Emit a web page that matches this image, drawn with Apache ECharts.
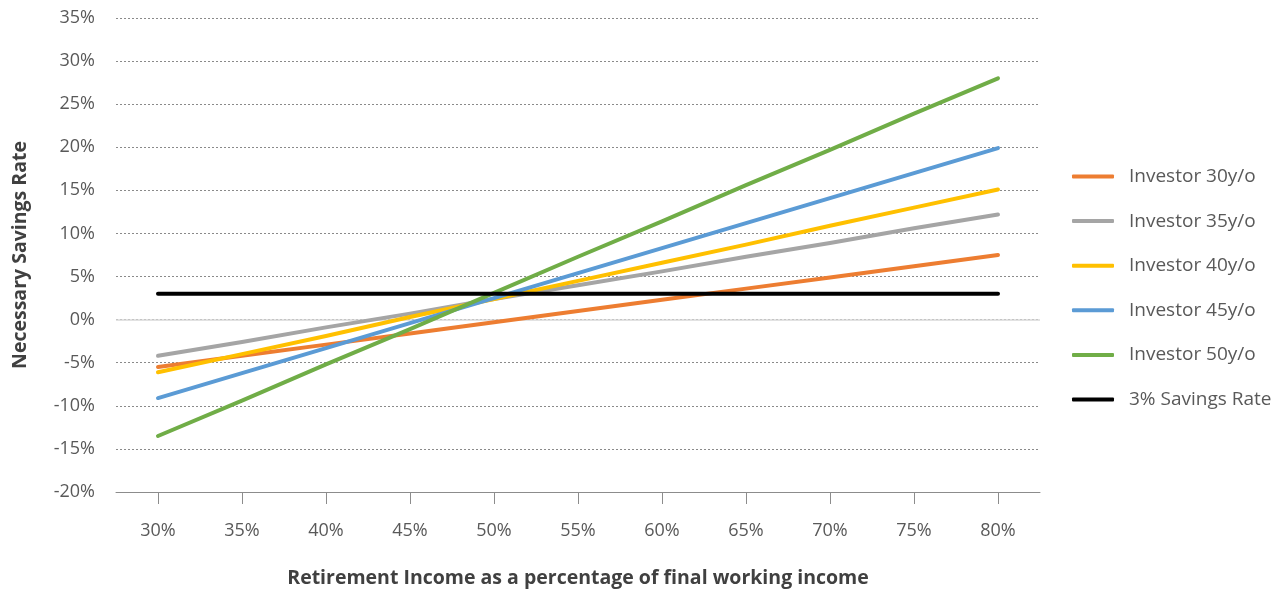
<!DOCTYPE html>
<html>
<head>
<meta charset="utf-8">
<script src="https://cdn.jsdelivr.net/npm/echarts@6/dist/echarts.min.js"></script>
<style>
  html, body { margin: 0; padding: 0; background: #fff; }
  #chart { width: 1281px; height: 593px; }
</style>
</head>
<body>
<div id="chart"></div>
<script>
// Retirement income replacement ratio (x) vs. savings rate needed (y, %)
const categories = ['30%', '35%', '40%', '45%', '50%', '55%', '60%', '65%', '70%', '75%', '80%'];

const investor30 = [-5.5, -4.2, -2.9, -1.6, -0.3, 1.0, 2.3, 3.6, 4.9, 6.2, 7.5];
const investor35 = [-4.2, -2.6, -0.9, 0.7, 2.4, 4.0, 5.6, 7.3, 8.9, 10.6, 12.2];
const investor40 = [-6.1, -4.0, -1.9, 0.3, 2.4, 4.5, 6.6, 8.7, 10.9, 13.0, 15.1];
const investor45 = [-9.1, -6.2, -3.3, -0.4, 2.5, 5.4, 8.3, 11.2, 14.1, 17.0, 19.9];
const investor50 = [-13.5, -9.4, -5.2, -1.1, 3.1, 7.3, 11.4, 15.6, 19.7, 23.9, 28.0];
const savingsRate3 = [3, 3, 3, 3, 3, 3, 3, 3, 3, 3, 3];

const seriesNames = ['Investor 30y/o', 'Investor 35y/o', 'Investor 40y/o', 'Investor 45y/o', 'Investor 50y/o', '3% Savings Rate'];
const seriesColors = ['#ED7D31', '#A5A5A5', '#FFC000', '#5B9BD5', '#70AD47', '#000000'];
const seriesData = [investor30, investor35, investor40, investor45, investor50, savingsRate3];

const FONT = '"Open Sans", "Noto Sans", sans-serif';

const chart = echarts.init(document.getElementById('chart'), null, { renderer: 'canvas' });

const series = seriesNames.map((name, i) => ({
  name: name,
  type: 'line',
  data: seriesData[i],
  symbol: 'none',
  smooth: false,
  color: seriesColors[i],
  lineStyle: { width: 4, color: seriesColors[i], cap: 'round', join: 'round' },
  z: 3 + i,
  silent: true
}));

// solid light baseline at 0%
series[0].markLine = {
  silent: true,
  symbol: 'none',
  label: { show: false },
  lineStyle: { color: '#d9d9d9', width: 1.5, type: 'solid' },
  data: [{ yAxis: 0 }],
  z: 1
};

chart.setOption({
  animation: false,
  backgroundColor: '#ffffff',
  grid: { left: 116, right: 241, top: 18, bottom: 101, containLabel: false, outerBoundsMode: 'none' },
  legend: {
    orient: 'vertical',
    left: 1067,
    top: 162,
    itemWidth: 42,
    itemHeight: 4,
    itemGap: 25.6,
    icon: 'roundRect',
    data: seriesNames,
    textStyle: { fontFamily: FONT, fontSize: 19, color: '#595959', padding: [0, 0, 0, 10] }
  },
  xAxis: {
    type: 'category',
    data: categories,
    boundaryGap: true,
    name: 'Retirement Income as a percentage of final working income',
    nameLocation: 'middle',
    nameGap: 76,
    nameTextStyle: { fontFamily: FONT, fontSize: 19.5, fontWeight: 'bold', color: '#404040' },
    axisLine: { show: true, onZero: false, lineStyle: { color: '#8c8c8c', width: 1 } },
    axisTick: { show: true, alignWithLabel: true, length: 12, lineStyle: { color: '#8c8c8c' } },
    axisLabel: { margin: 30, fontFamily: FONT, fontSize: 18, color: '#595959' },
    splitLine: { show: false }
  },
  yAxis: {
    type: 'value',
    min: -20,
    max: 35,
    interval: 5,
    name: 'Necessary Savings Rate',
    nameLocation: 'middle',
    nameGap: 86,
    nameRotate: 90,
    nameTextStyle: { fontFamily: FONT, fontSize: 19.5, fontWeight: 'bold', color: '#404040' },
    axisLine: { show: false },
    axisTick: { show: false },
    axisLabel: { margin: 21, fontFamily: FONT, fontSize: 18, color: '#595959', formatter: '{value}%' },
    splitLine: { show: true, lineStyle: { color: '#8a8a8a', width: 1, type: [2, 2] } }
  },
  series: series
});
</script>
</body>
</html>
